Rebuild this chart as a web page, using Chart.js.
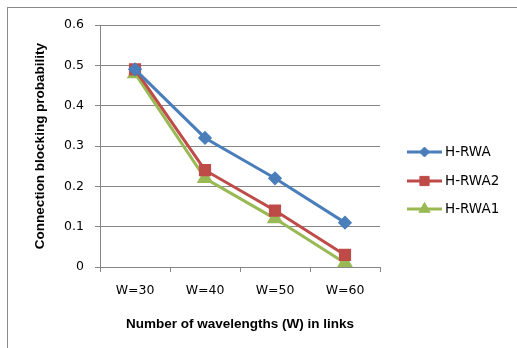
<!DOCTYPE html>
<html>
<head>
<meta charset="utf-8">
<script src="https://cdn.jsdelivr.net/npm/chart.js@4"></script>
<style>
    body { margin: 0; background: #fff; }
    #wrap { position: relative; width: 517px; height: 348px; }
    #frame { position: absolute; left: 7px; top: 7px; width: 520px; height: 350px;
             border-left: 1px solid #8a8a8a; border-top: 1px solid #8a8a8a; }
</style>
</head>
<body>
<div id="wrap">
    <canvas id="blockingChart" width="517" height="348"></canvas>
    <div id="frame"></div>
</div>
<script>
// dados
const categories = ["W=30", "W=40", "W=50", "W=60"];
const hrwa  = [0.49, 0.32, 0.22, 0.11];
const hrwa2 = [0.49, 0.24, 0.14, 0.03];
const hrwa1 = [0.48, 0.22, 0.12, 0.01];
const yTicks = [0, 0.1, 0.2, 0.3, 0.4, 0.5, 0.6];

const tickFont = { family: "DejaVu Sans", size: 12.5 };
const titleFont = { family: "Liberation Sans", size: 13.5, weight: "bold" };

// legenda desenhada à direita (linha + marcador + texto)
const sideLegend = {
    id: "sideLegend",
    afterDraw(chart) {
        const ctx = chart.ctx;
        const rows = [152, 181, 209];
        chart.data.datasets.forEach((ds, i) => {
            const y = rows[i];
            ctx.save();
            ctx.strokeStyle = ds.borderColor;
            ctx.fillStyle = ds.borderColor;
            ctx.lineWidth = 3;
            ctx.beginPath();
            ctx.moveTo(407, y);
            ctx.lineTo(442, y);
            ctx.stroke();
            ctx.lineWidth = 1;
            Chart.helpers.drawPoint(ctx, {
                pointStyle: ds.pointStyle,
                radius: ds.pointRadius,
                borderWidth: 1
            }, 424.5, y);
            ctx.fillStyle = "#000";
            ctx.font = "13.5px 'DejaVu Sans'";
            ctx.textBaseline = "middle";
            ctx.fillText(ds.label, 445, y);
            ctx.restore();
        });
    }
};

const ctx = document.getElementById("blockingChart").getContext("2d");

function series(label, data, color, style, radius) {
    return {
        label: label,
        data: data,
        borderColor: color,
        backgroundColor: color,
        pointBackgroundColor: color,
        pointBorderColor: color,
        borderWidth: 3,
        pointStyle: style,
        pointRadius: radius,
        pointHoverRadius: radius,
        tension: 0
    };
}

new Chart(ctx, {
    type: "line",
    data: {
        labels: categories,
        datasets: [
            series("H-RWA", hrwa, "#4a7ebb", "rectRot", 5),
            series("H-RWA2", hrwa2, "#be4b48", "rect", 6.5),
            series("H-RWA1", hrwa1, "#98b954", "triangle", 6.5)
        ]
    },
    options: {
        responsive: false,
        animation: false,
        layout: { padding: { left: 0, top: 25, right: 137, bottom: 0 } },
        plugins: {
            legend: { display: false },
            tooltip: { enabled: false }
        },
        scales: {
            x: {
                offset: true,
                grid: {
                    offset: true,
                    drawOnChartArea: false,
                    drawTicks: true,
                    tickLength: 5,
                    color: "#868686"
                },
                border: { color: "#868686", width: 1 },
                ticks: { font: tickFont, color: "#000", padding: 11, maxRotation: 0 },
                title: {
                    display: true,
                    text: "Number of wavelengths (W) in links",
                    font: titleFont,
                    color: "#000",
                    padding: { top: 0, bottom: 16 }
                },
                afterFit: function (scale) { scale.height = 81; }
            },
            y: {
                min: 0,
                max: 0.6,
                afterBuildTicks: function (scale) {
                    scale.ticks = yTicks.map(v => ({ value: v }));
                },
                grid: { color: "#868686", tickLength: 5 },
                border: { color: "#868686", width: 1 },
                ticks: {
                    font: tickFont,
                    color: "#000",
                    padding: 11,
                    callback: v => v === 0 ? "0" : v.toFixed(1)
                },
                title: {
                    display: true,
                    text: "Connection blocking probability",
                    font: titleFont,
                    color: "#000",
                    padding: { top: 32, bottom: 0 }
                },
                afterFit: function (scale) { scale.width = 100; }
            }
        }
    },
    plugins: [sideLegend]
});
</script>
</body>
</html>
